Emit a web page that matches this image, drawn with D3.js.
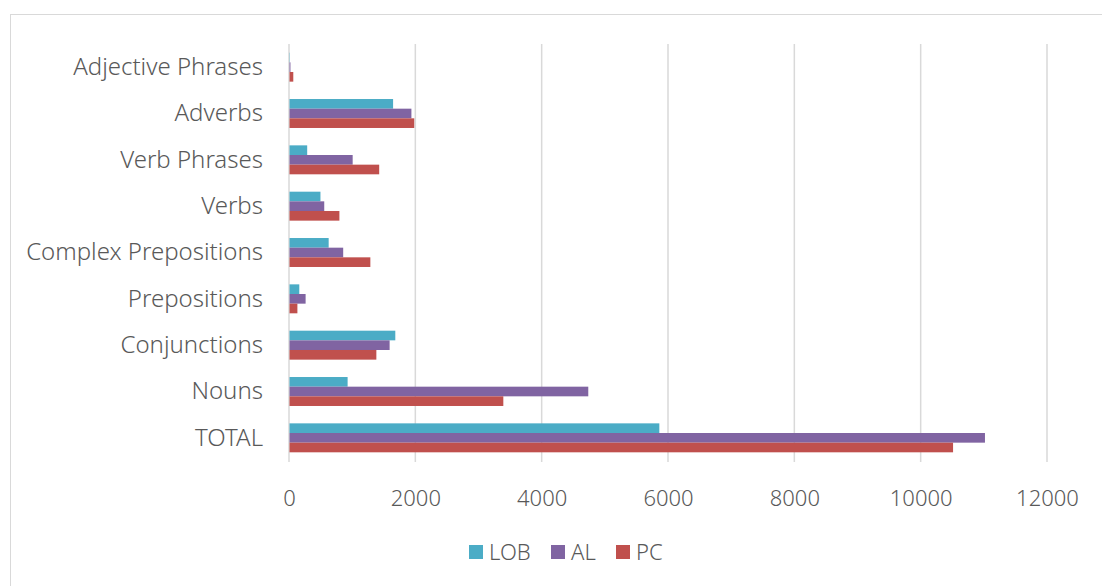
<!DOCTYPE html>
<html>
<head>
<meta charset="utf-8">
<script src="https://cdn.jsdelivr.net/npm/d3@7"></script>
<style>
  body { margin: 0; background: #fff; }
  svg text { font-family: "Noto Sans", "Open Sans", sans-serif; fill: #595959; font-weight: 300; }
</style>
</head>
<body>
<svg id="chart" width="1102" height="586"></svg>
<script>
// categories from top to bottom
const categories = ["Adjective Phrases", "Adverbs", "Verb Phrases", "Verbs",
    "Complex Prepositions", "Prepositions", "Conjunctions", "Nouns", "TOTAL"];
const seriesNames = ["LOB", "AL", "PC"];
const seriesColors = ["#4BACC6", "#8064A2", "#C0504D"];

const lobValues = [5, 1640, 280, 490, 620, 155, 1675, 920, 5855];
const alValues = [15, 1930, 1000, 550, 850, 255, 1585, 4730, 11010];
const pcValues = [60, 1975, 1420, 790, 1280, 125, 1375, 3385, 10505];

const xTicks = [0, 2000, 4000, 6000, 8000, 10000, 12000];

const allValues = [lobValues, alValues, pcValues];

let data = categories.map((c, i) => ({
    name: c,
    values: seriesNames.map((s, j) => ({ series: s, value: allValues[j][i] }))
}));

let svg = d3.select("#chart");

// outer chart border
svg.append("rect")
    .attr("x", 10.5).attr("y", 14.5)
    .attr("width", 1120).attr("height", 600)
    .attr("fill", "none")
    .attr("stroke", "#d9d9d9")
    .attr("stroke-width", 1);

let xr1 = 289, xr2 = 1047;
let yr1 = 44, yr2 = 461;

let xScale = d3.scaleLinear().domain([0, 12000]).range([xr1, xr2]);
let yScale = d3.scaleBand().domain(categories).range([yr1, yr2])
    .paddingInner(0.375).paddingOuter(0.1875);
let ySub = d3.scaleBand().domain(seriesNames).range([0, yScale.bandwidth()]);
let color = d3.scaleOrdinal().domain(seriesNames).range(seriesColors);

// gridlines
svg.append("g")
    .selectAll("line")
    .data(xTicks)
    .enter().append("line")
    .attr("x1", d => xScale(d)).attr("x2", d => xScale(d))
    .attr("y1", yr1).attr("y2", yr2 + 1)
    .attr("stroke", "#d9d9d9")
    .attr("stroke-width", 1.5);

// x axis labels
let xAxis = d3.axisBottom(xScale).tickValues(xTicks).tickSize(0).tickPadding(0)
    .tickFormat(d3.format("d"));
let xg = svg.append("g")
    .attr("transform", "translate(0," + 498 + ")")
    .call(xAxis);
xg.select(".domain").remove();
xg.selectAll("text")
    .attr("dy", "0.36em")
    .style("font-size", "22px")
    .style("font-family", "\"Noto Sans\", sans-serif")
    .attr("fill", "#595959");

// y axis labels
let yAxis = d3.axisLeft(yScale).tickSize(0).tickPadding(26);
let yg = svg.append("g")
    .attr("transform", "translate(" + xr1 + ",0)")
    .call(yAxis);
yg.select(".domain").remove();
yg.selectAll("text")
    .style("font-size", "24px")
    .style("font-family", "\"Noto Sans\", sans-serif")
    .attr("fill", "#595959");

// bars
let groups = svg.append("g")
    .selectAll("g")
    .data(data)
    .enter().append("g")
    .attr("transform", d => "translate(0," + yScale(d.name) + ")");

groups.selectAll("rect")
    .data(d => d.values)
    .enter().append("rect")
    .attr("x", xScale(0) + 0.5)
    .attr("y", d => ySub(d.series))
    .attr("width", d => xScale(d.value) - xScale(0))
    .attr("height", ySub.bandwidth())
    .attr("fill", d => color(d.series));

// legend
let legendX = [469, 551, 616];
let legend = svg.append("g")
    .selectAll("g")
    .data(seriesNames)
    .enter().append("g")
    .attr("transform", (d, i) => "translate(" + legendX[i] + ",545)");

legend.append("rect")
    .attr("width", 14).attr("height", 14)
    .attr("fill", d => color(d));

legend.append("text")
    .attr("x", 20).attr("y", 7)
    .attr("dy", "0.36em")
    .style("font-size", "22px")
    .text(d => d);
</script>
</body>
</html>
